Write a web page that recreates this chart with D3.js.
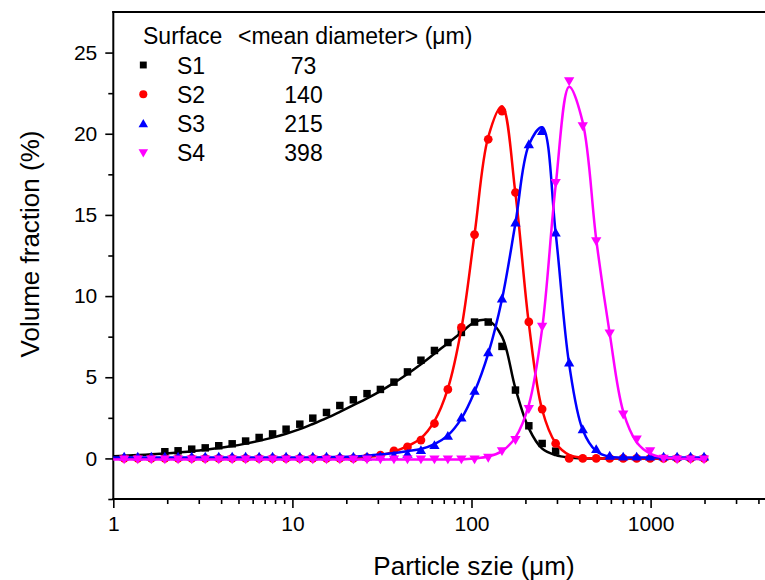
<!DOCTYPE html>
<html>
<head>
<meta charset="utf-8">
<script src="https://cdn.jsdelivr.net/npm/d3@7"></script>
<style>
  body { margin: 0; background: #fff; }
  svg { display: block; }
  text { font-family: "Liberation Sans", Arial, Helvetica, sans-serif; fill: #000; }
</style>
</head>
<body>
<svg id="chart" width="765" height="580"></svg>
<script>
// Size classes (µm) of the measured distributions
const sizes = [1.15, 1.37, 1.63, 1.94, 2.30, 2.74, 3.26, 3.88, 4.61, 5.48, 6.52, 7.75, 9.22, 11.0, 13.0,
  15.5, 18.4, 21.9, 26.1, 31.0, 36.9, 43.9, 52.2, 62.1, 73.8, 87.8, 104, 124, 148, 176, 209, 248, 295,
  351, 418, 497, 591, 703, 836, 994, 1182, 1406, 1672, 1988];

// Measured volume fraction (%) per size class
const s1Volume = [null, null, null, 0.41, 0.47, 0.57, 0.65, 0.78, 0.90, 1.07, 1.29, 1.51, 1.80, 2.11, 2.48,
  2.83, 3.26, 3.61, 3.99, 4.25, 4.70, 5.33, 6.05, 6.65, 7.14, 7.76, 8.40, 8.40, 6.90, 4.21, 2.01, 0.92, 0.45,
  null, null, null, null, null, null, null, null, null, null, null];
const s2Volume = [0, 0, 0, 0, 0, 0, 0, 0, 0, 0, 0, 0, 0, 0, 0, 0, 0, 0, 0.05, 0.2, 0.47, 0.71, 1.13, 2.15,
  4.25, 8.07, 13.79, 19.66, 21.39, 16.38, 8.41, 3.04, 0.92, 0, 0, 0, 0, 0, 0, 0, 0, 0, 0, 0];
const s3Volume = [0.05, 0.05, 0.05, 0.05, 0.05, 0.05, 0.05, 0.05, 0.05, 0.05, 0.05, 0.05, 0.05, 0.05, 0.05,
  0.05, 0.05, 0.05, 0.05, 0.07, 0.1, 0.22, 0.45, 0.76, 1.33, 2.46, 4.10, 6.47, 9.79, 14.47, 19.29, 20.11,
  13.85, 5.85, 1.74, 0.51, 0.1, 0.05, 0.05, 0.05, 0.05, 0.05, 0.05, 0.05];
const s4Volume = [0, 0, 0, 0, 0, 0, 0, 0, 0, 0, 0, 0, 0, 0, 0, 0, 0, 0, 0, 0, 0, 0, 0, 0, 0, 0, 0, 0.1,
  0.51, 1.19, 3.1, 8.17, 17.03, 23.3, 20.52, 13.44, 7.76, 2.77, 1.23, 0.51, 0.05, 0, 0, 0];

// Fitted distribution curves
const fitSizes = [1, 1.15, 1.37, 1.63, 1.94, 2.30, 2.74, 3.26, 3.88, 4.61, 5.48, 6.52, 7.75, 9.22, 11.0, 13.0,
  15.5, 18.4, 21.9, 26.1, 31.0, 36.9, 43.9, 52.2, 62.1, 73.8, 87.8, 104, 124, 148, 176, 209, 248, 295,
  351, 418, 497, 591, 703, 836, 994, 1182, 1406, 1672, 1988];
const s1Fit = [0.13, 0.17, 0.21, 0.25, 0.3, 0.36, 0.44, 0.53, 0.64, 0.76, 0.91, 1.08, 1.28, 1.52, 1.8, 2.12,
  2.48, 2.87, 3.28, 3.7, 4.15, 4.65, 5.2, 5.8, 6.45, 7.1, 7.75, 8.4, 8.5, 7.5, 4.3, 1.85, 0.6, 0.2, 0.05,
  0, 0, 0, 0, 0, 0, 0, 0, 0, 0];
const s2Fit = [0, 0, 0, 0, 0, 0, 0, 0, 0, 0, 0, 0, 0, 0, 0, 0, 0, 0, 0, 0.08, 0.2, 0.42, 0.75, 1.25, 2.3,
  4.3, 8.0, 13.8, 19.8, 21.7, 16.3, 8.3, 3.0, 0.95, 0.22, 0.04, 0, 0, 0, 0, 0, 0, 0, 0, 0];
const s3Fit = [0.06, 0.06, 0.06, 0.06, 0.06, 0.06, 0.06, 0.06, 0.06, 0.06, 0.06, 0.06, 0.06, 0.06, 0.06, 0.06,
  0.07, 0.09, 0.12, 0.17, 0.24, 0.33, 0.45, 0.58, 0.88, 1.42, 2.45, 4.1, 6.45, 9.8, 14.5, 19.3, 20.4, 13.9,
  5.8, 1.75, 0.45, 0.1, 0.06, 0.06, 0.06, 0.06, 0.06, 0.06, 0.06];
const s4Fit = [-0.06, -0.06, -0.06, -0.06, -0.06, -0.06, -0.06, -0.06, -0.06, -0.06, -0.06, -0.06, -0.06,
  -0.06, -0.06, -0.06, -0.06, -0.06, -0.06, -0.06, -0.06, -0.06, -0.06, -0.06, -0.06, -0.06, -0.06, 0.0,
  0.12, 0.45, 1.3, 3.3, 8.0, 16.8, 22.9, 20.7, 13.5, 7.7, 2.9, 1.0, 0.3, 0.06, 0, -0.03, -0.06];

const surfaceNames = ["S1", "S2", "S3", "S4"];
const meanDiameters = [73, 140, 215, 398];
const xTickValues = [1, 10, 100, 1000];
const xMinorTickValues = [2, 3, 4, 5, 6, 7, 8, 9, 20, 30, 40, 50, 60, 70, 80, 90,
  200, 300, 400, 500, 600, 700, 800, 900, 2000, 3000, 4000];
const yTickValues = [0, 5, 10, 15, 20, 25];
const yMinorTickValues = [-2.5, 2.5, 7.5, 12.5, 17.5, 22.5];

const series = [
  { name: surfaceNames[0], mean: meanDiameters[0], values: s1Volume, fit: s1Fit, color: "#000000", symbol: d3.symbolSquare, size: 56, rotate: 0 },
  { name: surfaceNames[1], mean: meanDiameters[1], values: s2Volume, fit: s2Fit, color: "#ff0000", symbol: d3.symbolCircle, size: 60, rotate: 0 },
  { name: surfaceNames[2], mean: meanDiameters[2], values: s3Volume, fit: s3Fit, color: "#0000ff", symbol: d3.symbolTriangle, size: 46, rotate: 0 },
  { name: surfaceNames[3], mean: meanDiameters[3], values: s4Volume, fit: s4Fit, color: "#ff00ff", symbol: d3.symbolTriangle, size: 46, rotate: 180 }
];

const svg = d3.select("#chart");
const plotLeft = 113.3, plotTop = 12, plotBottom = 499, plotRight = 765;

const x = d3.scaleLog().domain([1, 1000]).range([plotLeft, 650.6]);
const y = d3.scaleLinear().domain([-2.5, 27.5]).range([plotBottom, plotTop]);

// Axes
const xAxis = svg.append("g").attr("transform", `translate(0,${plotBottom})`)
  .call(d3.axisBottom(x).tickValues(xTickValues).tickSize(9).tickPadding(8).tickFormat(d3.format("d")));
const xMinor = svg.append("g").attr("transform", `translate(0,${plotBottom})`)
  .call(d3.axisBottom(x).tickValues(xMinorTickValues).tickSize(5).tickFormat(""));
const yAxis = svg.append("g").attr("transform", `translate(${plotLeft},0)`)
  .call(d3.axisLeft(y).tickValues(yTickValues).tickSize(8).tickPadding(8).tickFormat(d3.format("d")));
const yMinor = svg.append("g").attr("transform", `translate(${plotLeft},0)`)
  .call(d3.axisLeft(y).tickValues(yMinorTickValues).tickSize(5).tickFormat(""));

[xAxis, xMinor, yAxis, yMinor].forEach(g => {
  g.select(".domain").remove();
  g.selectAll(".tick line").attr("stroke", "#000").attr("stroke-width", 1.6);
  g.selectAll("text").style("font-size", "21px").attr("fill", "#000");
});

// Frame lines
svg.append("line").attr("x1", plotLeft - 1).attr("x2", plotRight).attr("y1", plotBottom).attr("y2", plotBottom)
  .attr("stroke", "#000").attr("stroke-width", 2);
svg.append("line").attr("x1", plotLeft - 1).attr("x2", plotRight).attr("y1", plotTop).attr("y2", plotTop)
  .attr("stroke", "#000").attr("stroke-width", 2);
svg.append("line").attr("x1", plotLeft).attr("x2", plotLeft).attr("y1", plotTop - 1).attr("y2", plotBottom + 1)
  .attr("stroke", "#000").attr("stroke-width", 2);

// Axis titles
svg.append("text").attr("x", 474).attr("y", 575).attr("text-anchor", "middle")
  .style("font-size", "26px").text("Particle szie (\u03bcm)");
svg.append("text").attr("transform", "translate(39,244) rotate(-90)").attr("text-anchor", "middle")
  .style("font-size", "26px").text("Volume fraction (%)");

// Fit curves and measured points
const line = d3.line()
  .x((d, i) => x(fitSizes[i]))
  .y(d => y(d))
  .curve(d3.curveCatmullRom.alpha(0.5));

series.forEach(s => {
  svg.append("path").attr("d", line(s.fit)).attr("fill", "none")
    .attr("stroke", s.color).attr("stroke-width", 2.5);
  const pts = sizes.map((sz, i) => ({ sz, v: s.values[i] })).filter(d => d.v !== null);
  svg.append("g").selectAll("path").data(pts).join("path")
    .attr("d", d3.symbol().type(s.symbol).size(s.size))
    .attr("transform", d => `translate(${x(d.sz)},${y(d.v)}) rotate(${s.rotate})`)
    .attr("fill", s.color);
});

// Legend
const legend = svg.append("g");
legend.append("text").attr("x", 143).attr("y", 44).style("font-size", "23px").text("Surface");
legend.append("text").attr("x", 238).attr("y", 44).style("font-size", "23px").text("<mean diameter> (\u03bcm)");
const rowBase = [74, 102.5, 132, 161];
const symY = [65, 94.3, 124.5, 152];
series.forEach((s, i) => {
  legend.append("path").attr("d", d3.symbol().type(s.symbol).size(s.size * 0.85))
    .attr("transform", `translate(143.3,${symY[i]}) rotate(${s.rotate})`).attr("fill", s.color);
  legend.append("text").attr("x", 177).attr("y", rowBase[i]).style("font-size", "23px").text(s.name);
  legend.append("text").attr("x", 303.5).attr("y", rowBase[i]).attr("text-anchor", "middle")
    .style("font-size", "23px").text(s.mean);
});
</script>
</body>
</html>
